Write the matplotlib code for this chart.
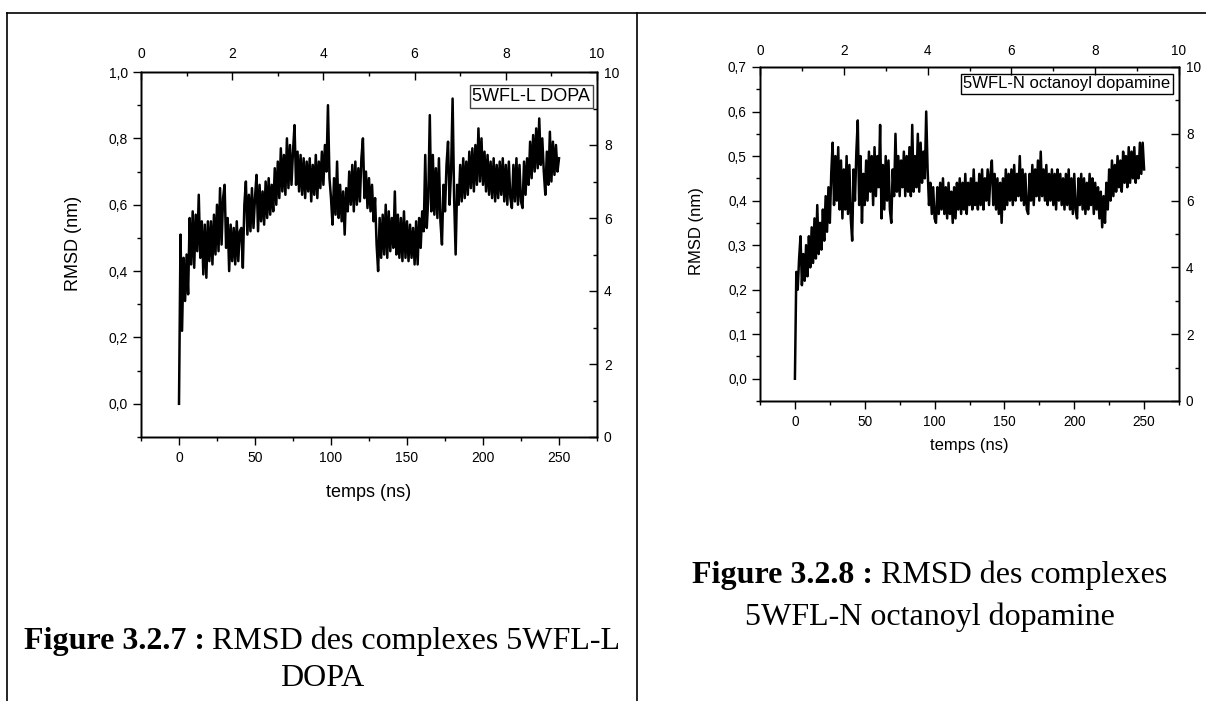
import numpy as np
import matplotlib
matplotlib.use("Agg")
import matplotlib.pyplot as plt
from matplotlib.ticker import MultipleLocator, FuncFormatter
from matplotlib.lines import Line2D

plt.rcParams['font.family'] = ['Liberation Sans', 'DejaVu Sans']

# RMSD (nm) read every 1 ns from the picture, 0..250 ns
dopa_rmsd = [
    0.00, 0.51, 0.22, 0.44, 0.31, 0.45, 0.33, 0.56, 0.42, 0.58,
    0.41, 0.57, 0.46, 0.63, 0.44, 0.55, 0.39, 0.54, 0.38, 0.55,
    0.43, 0.55, 0.42, 0.57, 0.45, 0.60, 0.46, 0.65, 0.48, 0.62,
    0.66, 0.47, 0.56, 0.40, 0.54, 0.43, 0.53, 0.42, 0.55, 0.43,
    0.52, 0.53, 0.41, 0.60, 0.67, 0.51, 0.63, 0.52, 0.65, 0.53,
    0.62, 0.69, 0.52, 0.66, 0.55, 0.64, 0.54, 0.67, 0.56, 0.68,
    0.57, 0.66, 0.58, 0.71, 0.60, 0.73, 0.62, 0.77, 0.64, 0.75,
    0.63, 0.80, 0.65, 0.78, 0.66, 0.76, 0.84, 0.66, 0.76, 0.64,
    0.75, 0.63, 0.74, 0.62, 0.73, 0.64, 0.74, 0.61, 0.72, 0.63,
    0.75, 0.62, 0.73, 0.65, 0.76, 0.66, 0.78, 0.70, 0.90, 0.68,
    0.62, 0.54, 0.68, 0.57, 0.73, 0.56, 0.66, 0.55, 0.64, 0.51,
    0.65, 0.58, 0.70, 0.60, 0.72, 0.58, 0.73, 0.60, 0.71, 0.61,
    0.74, 0.80, 0.62, 0.70, 0.59, 0.68, 0.58, 0.66, 0.55, 0.62,
    0.48, 0.40, 0.56, 0.44, 0.57, 0.45, 0.60, 0.44, 0.58, 0.46,
    0.56, 0.47, 0.64, 0.45, 0.57, 0.44, 0.56, 0.43, 0.58, 0.44,
    0.55, 0.43, 0.54, 0.44, 0.53, 0.42, 0.55, 0.42, 0.56, 0.47,
    0.58, 0.52, 0.75, 0.53, 0.62, 0.87, 0.58, 0.75, 0.57, 0.71,
    0.56, 0.74, 0.55, 0.48, 0.66, 0.58, 0.72, 0.79, 0.60, 0.70,
    0.92, 0.62, 0.45, 0.66, 0.60, 0.72, 0.61, 0.74, 0.62, 0.73,
    0.63, 0.76, 0.65, 0.77, 0.64, 0.78, 0.66, 0.83, 0.67, 0.80,
    0.66, 0.76, 0.64, 0.75, 0.63, 0.73, 0.62, 0.74, 0.61, 0.72,
    0.62, 0.73, 0.63, 0.74, 0.61, 0.72, 0.60, 0.73, 0.62, 0.59,
    0.72, 0.61, 0.74, 0.60, 0.72, 0.61, 0.59, 0.73, 0.63, 0.74,
    0.66, 0.79, 0.68, 0.81, 0.70, 0.83, 0.71, 0.86, 0.72, 0.80,
    0.70, 0.63, 0.76, 0.66, 0.82, 0.67, 0.79, 0.69, 0.78, 0.70,
    0.74,
]

octanoyl_rmsd = [
    0.00, 0.24, 0.20, 0.27, 0.32, 0.21, 0.28, 0.22, 0.30, 0.23,
    0.32, 0.25, 0.34, 0.26, 0.36, 0.27, 0.39, 0.28, 0.35, 0.29,
    0.38, 0.31, 0.41, 0.33, 0.43, 0.35, 0.46, 0.53, 0.39, 0.50,
    0.40, 0.52, 0.38, 0.49, 0.36, 0.47, 0.38, 0.50, 0.37, 0.48,
    0.36, 0.31, 0.47, 0.40, 0.51, 0.58, 0.39, 0.50, 0.35, 0.46,
    0.39, 0.49, 0.40, 0.51, 0.42, 0.50, 0.39, 0.52, 0.41, 0.50,
    0.43, 0.57, 0.36, 0.48, 0.38, 0.50, 0.40, 0.49, 0.38, 0.35,
    0.47, 0.41, 0.55, 0.42, 0.50, 0.41, 0.49, 0.43, 0.51, 0.41,
    0.50, 0.42, 0.52, 0.41, 0.57, 0.42, 0.50, 0.43, 0.55, 0.42,
    0.53, 0.44, 0.51, 0.45, 0.60, 0.47, 0.39, 0.44, 0.37, 0.43,
    0.36, 0.35, 0.43, 0.37, 0.44, 0.38, 0.45, 0.37, 0.43, 0.36,
    0.44, 0.37, 0.42, 0.35, 0.43, 0.36, 0.44, 0.38, 0.45, 0.37,
    0.44, 0.38, 0.46, 0.37, 0.44, 0.39, 0.45, 0.38, 0.47, 0.39,
    0.44, 0.38, 0.46, 0.39, 0.47, 0.38, 0.45, 0.40, 0.47, 0.39,
    0.46, 0.49, 0.39, 0.46, 0.38, 0.45, 0.37, 0.44, 0.35, 0.45,
    0.38, 0.47, 0.39, 0.46, 0.40, 0.47, 0.39, 0.48, 0.40, 0.46,
    0.41, 0.50, 0.40, 0.47, 0.39, 0.46, 0.38, 0.37, 0.46, 0.40,
    0.48, 0.39, 0.47, 0.41, 0.49, 0.40, 0.51, 0.41, 0.47, 0.40,
    0.48, 0.39, 0.46, 0.40, 0.47, 0.39, 0.46, 0.38, 0.47, 0.40,
    0.46, 0.39, 0.45, 0.38, 0.46, 0.39, 0.47, 0.38, 0.45, 0.37,
    0.46, 0.38, 0.36, 0.45, 0.39, 0.46, 0.38, 0.45, 0.37, 0.44,
    0.38, 0.46, 0.39, 0.45, 0.37, 0.44, 0.38, 0.43, 0.36, 0.42,
    0.34, 0.41, 0.35, 0.44, 0.38, 0.47, 0.40, 0.49, 0.41, 0.48,
    0.42, 0.50, 0.43, 0.49, 0.42, 0.51, 0.44, 0.50, 0.43, 0.52,
    0.44, 0.51, 0.45, 0.52, 0.44, 0.50, 0.45, 0.53, 0.46, 0.53,
    0.47,
]
time_ns = np.arange(len(dopa_rmsd))

labels = ['5WFL-L DOPA', '5WFL-N octanoyl dopamine']
captions = [
    ('Figure 3.2.7 :', ' RMSD des complexes 5WFL-L', 'DOPA'),
    ('Figure 3.2.8 :', ' RMSD des complexes', '5WFL-N octanoyl dopamine'),
]

W, H = 1206, 701
fig = plt.figure(figsize=(W / 100, H / 100), dpi=100)


def fx(px):
    return px / W


def fy(py):
    return 1 - py / H


comma = FuncFormatter(lambda v, p: f"{v:.1f}".replace('.', ','))


def make_panel(rect, y, ylim, ymaj, ymin, fs, lab_fs, label, box_xy, box_edge,
               ylab_xy, xlab_y, top_pad, bot_pad):
    l, t, r, b = rect
    ax = fig.add_axes([fx(l), fy(b), fx(r - l), (b - t) / H])
    ax.plot(time_ns, y, color='black', lw=1.8, solid_joinstyle='round')
    ax.set_xlim(-25, 275)
    ax.set_ylim(*ylim)
    ax.xaxis.set_major_locator(MultipleLocator(50))
    ax.xaxis.set_minor_locator(MultipleLocator(25))
    ax.yaxis.set_major_locator(MultipleLocator(ymaj))
    ax.yaxis.set_minor_locator(MultipleLocator(ymin))
    ax.yaxis.set_major_formatter(comma)
    ax.tick_params(which='major', direction='out', length=6, width=1, labelsize=fs)
    ax.tick_params(which='minor', direction='out', length=3, width=1)
    ax.tick_params(axis='x', which='major', pad=bot_pad)
    for s in ax.spines.values():
        s.set_linewidth(1.0)
    ax.set_xlabel('temps (ns)', fontsize=lab_fs)
    ax.set_ylabel('RMSD (nm)', fontsize=lab_fs)
    ax.xaxis.set_label_coords(0.5, xlab_y)
    ax.yaxis.set_label_coords(*ylab_xy)

    ax_t = ax.twiny()
    ax_t.set_xlim(0, 10)
    ax_t.xaxis.set_major_locator(MultipleLocator(2))
    ax_t.xaxis.set_minor_locator(MultipleLocator(1))
    ax_t.tick_params(which='major', direction='in', length=6, width=1,
                     labelsize=fs, pad=top_pad)
    ax_t.tick_params(which='minor', direction='in', length=3, width=1)

    ax_r = ax.twinx()
    ax_r.set_ylim(0, 10)
    ax_r.yaxis.set_major_locator(MultipleLocator(2))
    ax_r.yaxis.set_minor_locator(MultipleLocator(1))
    ax_r.tick_params(which='major', direction='in', length=6, width=1,
                     labelsize=fs, pad=5)
    ax_r.tick_params(which='minor', direction='in', length=3, width=1)
    for a in (ax_t, ax_r):
        for s in a.spines.values():
            s.set_linewidth(1.0)

    ax.text(box_xy[0], box_xy[1], label, transform=ax.transAxes, ha='right',
            va='top', fontsize=lab_fs, zorder=5,
            bbox=dict(boxstyle='square,pad=0.15', fc='white', ec=box_edge, lw=1.0))
    return ax


make_panel((141, 72, 597, 437), dopa_rmsd, (-0.1, 1.0), 0.2, 0.1, 10, 13,
           labels[0], (0.985, 0.956), '#444444', (-0.13, 0.53), -0.13, 8, 4)
make_panel((760, 67, 1179, 401), octanoyl_rmsd, (-0.05, 0.7), 0.1, 0.05, 9.8, 12,
           labels[1], (0.979, 0.973), 'black', (-0.134, 0.51), -0.11, 6.5, 4)

# table borders
for xs, ys in [((7, 1206), (13, 13)), ((7, 7), (13, 701)), ((637, 637), (13, 701))]:
    fig.add_artist(Line2D([fx(v) for v in xs], [fy(v) for v in ys],
                          color='black', lw=1.2, transform=fig.transFigure))

# captions
serif = ['Liberation Serif', 'DejaVu Serif']
renderer = fig.canvas.get_renderer()


def caption(cx, y1, y2, bold, rest, line2, size):
    tb = fig.text(0, fy(y1), bold, fontsize=size, fontweight='bold',
                  family=serif, va='center')
    tr = fig.text(0, fy(y1), rest, fontsize=size, family=serif, va='center')
    wb = tb.get_window_extent(renderer).width
    wr = tr.get_window_extent(renderer).width
    x0 = cx - (wb + wr) / 2
    tb.set_x(fx(x0))
    tr.set_x(fx(x0 + wb))
    fig.text(fx(cx), fy(y2), line2, fontsize=size, family=serif,
             ha='center', va='center')


caption(322, 641, 679, *captions[0], 23)
caption(930, 575, 617, *captions[1], 23)

fig.savefig('out.png', dpi=100)
